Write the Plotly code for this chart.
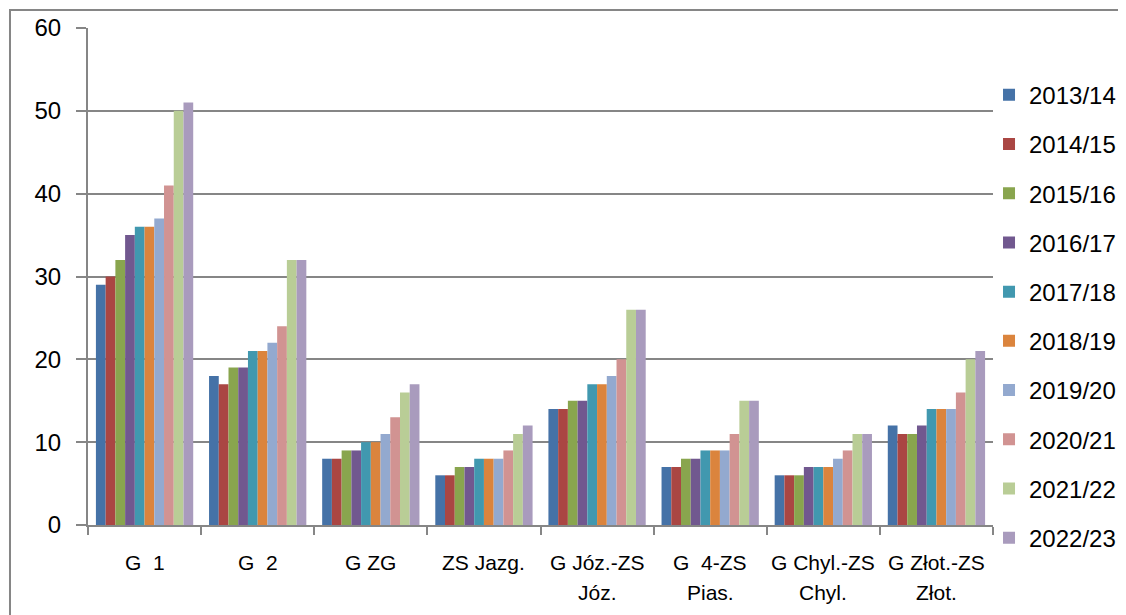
import plotly.graph_objects as go

categories = ["G  1", "G  2", "G ZG", "ZS Jazg.", "G Józ.-ZS|Józ.", "G  4-ZS|Pias.", "G Chyl.-ZS|Chyl.", "G Złot.-ZS|Złot."]
series_names = ["2013/14", "2014/15", "2015/16", "2016/17", "2017/18", "2018/19", "2019/20", "2020/21", "2021/22", "2022/23"]
values = {
    "2013/14": [29, 18, 8, 6, 14, 7, 6, 12],
    "2014/15": [30, 17, 8, 6, 14, 7, 6, 11],
    "2015/16": [32, 19, 9, 7, 15, 8, 6, 11],
    "2016/17": [35, 19, 9, 7, 15, 8, 7, 12],
    "2017/18": [36, 21, 10, 8, 17, 9, 7, 14],
    "2018/19": [36, 21, 10, 8, 17, 9, 7, 14],
    "2019/20": [37, 22, 11, 8, 18, 9, 8, 14],
    "2020/21": [41, 24, 13, 9, 20, 11, 9, 16],
    "2021/22": [50, 32, 16, 11, 26, 15, 11, 20],
    "2022/23": [51, 32, 17, 12, 26, 15, 11, 21],
}
colors = ["#4572A7", "#AA4643", "#89A54E", "#71588F", "#4198AF",
          "#DB843D", "#93A9CF", "#D19392", "#B9CD96", "#A99BBD"]
y_ticks = [0, 10, 20, 30, 40, 50, 60]

FONT = "Liberation Sans"
fig = go.Figure()
for name, col in zip(series_names, colors):
    fig.add_trace(go.Bar(
        x=categories, y=values[name], name=name, legendgroup=name,
        marker=dict(color=col, line=dict(width=0)),
    ))

# category labels as annotations (two lines where needed)
for cat in categories:
    parts = cat.split("|")
    for i, p in enumerate(parts):
        fig.add_annotation(x=cat, y=0, xref="x", yref="y", text=p, showarrow=False,
                           yanchor="middle", xanchor="center", yshift=-37 - 30 * i,
                           font=dict(family=FONT, size=21, color="#000000"))

fig.add_shape(type="rect", xref="paper", yref="paper",
              x0=-0.0862, x1=1.3, y0=-0.3, y1=1.0362,
              line=dict(color="#868686", width=2), fillcolor="rgba(0,0,0,0)", layer="below")

fig.update_layout(
    width=1126, height=615,
    margin=dict(l=80, r=141, t=20, b=98, autoexpand=False),
    plot_bgcolor="white", paper_bgcolor="white",
    barmode="group", bargap=0.14, bargroupgap=0,
    showlegend=True,
    legend=dict(x=0.9956, xanchor="left", y=0.42, yanchor="middle",
                font=dict(family=FONT, size=24, color="#000000"),
                tracegroupgap=15, bgcolor="rgba(0,0,0,0)", itemwidth=30),
    font=dict(family=FONT, size=20, color="#000000"),
    xaxis=dict(showticklabels=False, ticks="outside", tickson="boundaries", ticklen=8,
               tickcolor="#868686", tickwidth=2, showline=True, linecolor="#868686",
               linewidth=2, showgrid=False),
    yaxis=dict(range=[0, 60], tickvals=y_ticks, ticks="outside", ticklen=10,
               tickcolor="#868686", tickwidth=2, showline=True, linecolor="#868686",
               linewidth=2, showgrid=True, gridcolor="#868686", gridwidth=2,
               tickfont=dict(family=FONT, size=24), ticklabelstandoff=10, zeroline=False),
)
fig.write_html("out.html")
